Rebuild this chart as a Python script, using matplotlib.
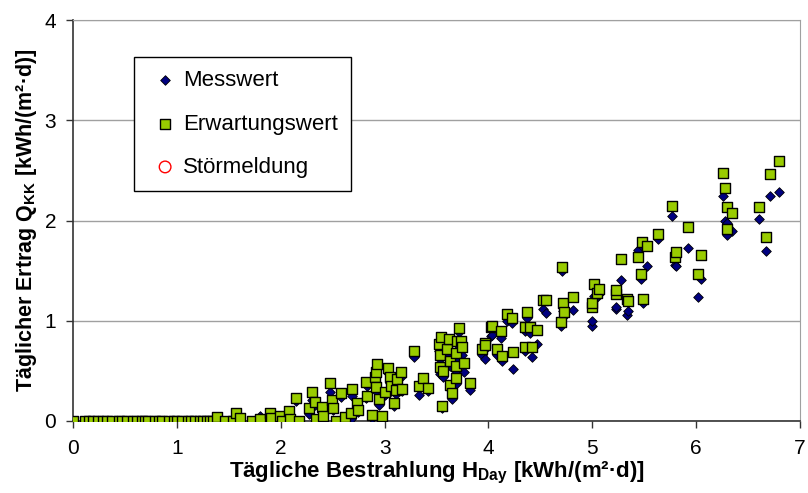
import numpy as np
import matplotlib
matplotlib.use('Agg')
import matplotlib.pyplot as plt

plt.rcParams['font.family'] = ['Liberation Sans', 'DejaVu Sans']
plt.rcParams['mathtext.fontset'] = 'custom'
plt.rcParams['mathtext.rm'] = 'Liberation Sans:bold'
plt.rcParams['mathtext.bf'] = 'Liberation Sans:bold'
plt.rcParams['mathtext.it'] = 'Liberation Sans:bold'
plt.rcParams['mathtext.default'] = 'regular'

# daily irradiation H_Day [kWh/(m2 d)]
h_day = [0.00, 0.12, 0.15, 0.19, 0.24, 0.29, 0.33, 0.38, 0.44, 0.47, 0.52, 0.58,
         0.62, 0.66, 0.69, 0.72, 0.79, 0.83, 0.86, 0.92, 0.97, 1.00, 1.05, 1.11,
         1.14, 1.17, 1.22, 1.25, 1.29, 1.32, 1.35, 1.39, 1.46, 1.54, 1.57, 1.61,
         1.72, 1.80, 1.90, 1.91, 1.99, 2.01, 2.08, 2.09, 2.15, 2.18,
         2.27, 2.30, 2.33, 2.34, 2.40, 2.41, 2.47, 2.49, 2.50, 2.53, 2.58, 2.62,
         2.68, 2.69, 2.73, 2.74, 2.82, 2.83, 2.88, 2.91, 2.92, 2.92, 2.93, 2.95,
         2.98, 3.00, 3.03, 3.05, 3.06, 3.09, 3.11, 3.12, 3.16, 3.17, 3.28, 3.33,
         3.37, 3.42, 3.52, 3.53, 3.53, 3.54, 3.55, 3.56, 3.60, 3.62, 3.63, 3.63,
         3.65, 3.69, 3.69, 3.69, 3.70, 3.72, 3.74, 3.75, 3.76, 3.82, 3.94, 3.97,
         3.97, 4.02, 4.03, 4.08, 4.12, 4.13, 4.18, 4.23, 4.24, 4.35, 4.35, 4.37,
         4.40, 4.42, 4.47, 4.53, 4.55, 4.70, 4.71, 4.72, 4.73, 4.81, 5.00, 5.00,
         5.02, 5.05, 5.06, 5.23, 5.23, 5.28, 5.33, 5.34, 5.44, 5.47, 5.48, 5.49,
         5.53, 5.63, 5.77, 5.80, 5.81, 5.92, 6.02, 6.05, 6.26, 6.28, 6.30, 6.30,
         6.35, 6.61, 6.67, 6.71, 6.80]

# measured daily yield Q_KK [kWh/(m2 d)]
messwert = [0.00, 0.00, 0.00, 0.00, 0.00, 0.00, 0.00, 0.00, 0.00, 0.00, 0.00, 0.00,
            0.00, 0.00, 0.00, 0.00, 0.00, 0.00, 0.00, 0.00, 0.00, 0.00, 0.00, 0.00,
            0.00, 0.00, 0.00, 0.00, 0.00, 0.00, 0.00, 0.02, 0.00, 0.00, 0.05, 0.01,
            0.00, 0.05, 0.06, 0.02, 0.03, 0.00, 0.08, 0.01, 0.20, 0.00,
            0.07, 0.21, 0.16, 0.01, 0.11, 0.03, 0.29, 0.18, 0.11, 0.00, 0.24, 0.00,
            0.02, 0.25, 0.15, 0.09, 0.23, 0.35, 0.03, 0.40, 0.30, 0.45, 0.52, 0.16,
            0.02, 0.26, 0.48, 0.38, 0.30, 0.15, 0.27, 0.40, 0.44, 0.30, 0.64, 0.26,
            0.38, 0.30, 0.70, 0.47, 0.62, 0.78, 0.13, 0.44, 0.65, 0.79, 0.55, 0.32,
            0.22, 0.62, 0.50, 0.37, 0.77, 0.89, 0.75, 0.66, 0.49, 0.31, 0.66, 0.62,
            0.72, 0.85, 0.86, 0.66, 0.83, 0.60, 1.00, 0.98, 0.52, 0.70, 0.90, 1.03,
            0.88, 0.64, 0.77, 1.12, 1.08, 0.95, 1.50, 1.10, 1.05, 1.11, 0.95, 1.00,
            1.25, 1.24, 1.27, 1.12, 1.14, 1.41, 1.06, 1.10, 1.71, 1.42, 1.75, 1.18,
            1.55, 1.82, 2.04, 1.56, 1.55, 1.73, 1.24, 1.42, 2.24, 2.00, 1.98, 1.86,
            1.90, 2.01, 1.70, 2.24, 2.28]

# expected daily yield [kWh/(m2 d)]
erwartungswert = [0.00, 0.00, 0.00, 0.00, 0.00, 0.00, 0.00, 0.00, 0.00, 0.00, 0.00, 0.00,
                  0.00, 0.00, 0.00, 0.00, 0.00, 0.00, 0.00, 0.00, 0.00, 0.00, 0.00, 0.00,
                  0.00, 0.00, 0.00, 0.00, 0.00, 0.00, 0.00, 0.04, 0.00, 0.00, 0.08, 0.03,
                  0.00, 0.02, 0.08, 0.03, 0.05, 0.00, 0.10, 0.02, 0.23, 0.00,
                  0.13, 0.29, 0.19, 0.02, 0.14, 0.05, 0.38, 0.21, 0.13, 0.00, 0.28, 0.04,
                  0.08, 0.32, 0.18, 0.11, 0.39, 0.25, 0.06, 0.44, 0.34, 0.49, 0.57, 0.22,
                  0.05, 0.29, 0.53, 0.44, 0.35, 0.18, 0.31, 0.42, 0.49, 0.32, 0.70, 0.35,
                  0.43, 0.33, 0.77, 0.54, 0.66, 0.84, 0.15, 0.50, 0.72, 0.82, 0.60, 0.36,
                  0.28, 0.68, 0.55, 0.43, 0.80, 0.93, 0.80, 0.74, 0.58, 0.38, 0.72, 0.78,
                  0.76, 0.94, 0.95, 0.72, 0.90, 0.65, 1.07, 1.03, 0.69, 0.74, 0.94, 1.09,
                  0.94, 0.74, 0.91, 1.21, 1.21, 0.99, 1.54, 1.18, 1.09, 1.24, 1.14, 1.18,
                  1.37, 1.28, 1.32, 1.27, 1.31, 1.62, 1.22, 1.20, 1.64, 1.47, 1.79, 1.22,
                  1.75, 1.87, 2.14, 1.64, 1.69, 1.94, 1.47, 1.66, 2.47, 2.32, 2.13, 1.92,
                  2.07, 2.13, 1.84, 2.46, 2.59]

stoermeldung_x = []
stoermeldung_y = []

fig = plt.figure(figsize=(8.08, 4.93), dpi=100)
ax = fig.add_axes([73 / 808, 72 / 493, 727 / 808, 401 / 493])

ax.scatter(h_day, messwert, marker='D', s=24, c='#000080', edgecolors='black',
           linewidths=0.6, zorder=3, label='Messwert')
ax.scatter(h_day, erwartungswert, marker='s', s=46, c='#99CC00', edgecolors='black',
           linewidths=1.0, zorder=4, label='Erwartungswert')
ax.scatter(stoermeldung_x, stoermeldung_y, marker='o', s=70, facecolors='none',
           edgecolors='red', linewidths=1, zorder=5, label='Störmeldung')

ax.set_xlim(0, 7)
ax.set_ylim(0, 4)
ax.set_xticks(range(0, 8))
ax.set_yticks(range(0, 5))
ax.yaxis.grid(True, color='#a0a0a0', linewidth=1)
ax.set_axisbelow(True)

for s in ['top', 'right']:
    ax.spines[s].set_color('#a0a0a0')
for s in ['left', 'bottom']:
    ax.spines[s].set_color('#333333')
    ax.spines[s].set_linewidth(1.2)

ax.tick_params(axis='both', direction='out', length=5, width=1, colors='#333333',
               labelsize=15, labelcolor='black')
ax.tick_params(axis='x', pad=8)
ax.tick_params(axis='y', pad=7)

ax.set_xlabel('Tägliche Bestrahlung H$_{Day}$ [kWh/(m²·d)]', fontsize=16,
              fontweight='bold', labelpad=1)
ax.set_ylabel('Täglicher Ertrag Q$_{KK}$ [kWh/(m²·d)]', fontsize=15.5,
              fontweight='bold', labelpad=4)

leg = ax.legend(loc='upper left', bbox_to_anchor=(134 / 808, 1 - 57 / 493),
                bbox_transform=fig.transFigure, fontsize=16, frameon=True,
                fancybox=False, shadow=False, edgecolor='black', framealpha=1,
                labelspacing=1.0, handletextpad=0.0, handlelength=1.6,
                borderpad=0.6, borderaxespad=0, scatterpoints=1)
leg.get_frame().set_linewidth(1)

fig.savefig('out.png', dpi=100)
